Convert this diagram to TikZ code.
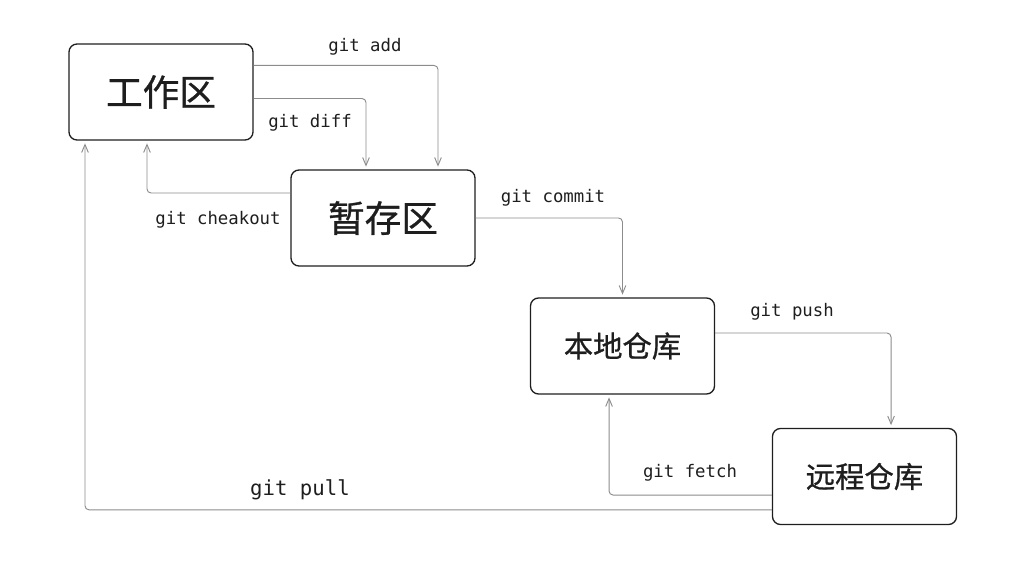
\documentclass[tikz,border=0pt]{standalone}
\usepackage{fontspec}
\setmainfont{DejaVu Sans Mono}
\newfontfamily\cjk[FakeBold=0.8]{Noto Sans CJK SC}
\usetikzlibrary{arrows.meta}
\definecolor{ink}{HTML}{1E1E1E}
\definecolor{wire}{HTML}{8C8C8C}

\begin{document}
\begin{tikzpicture}[x=0.75pt, y=-0.75pt]
\tikzset{
  area/.style={draw=ink, line width=1pt, rounded corners=6pt, minimum width=138pt,
    minimum height=72pt, text=ink, font=\cjk\fontsize{27.5}{30}\selectfont},
  repo/.style={area, font=\cjk\fontsize{22}{26}\selectfont},
  flow/.style={draw=wire, line width=0.7pt, rounded corners=3pt,
    -{Straight Barb[length=6pt,width=5pt]}, shorten >=2pt},
  cmd/.style={text=ink, font=\fontsize{13}{15}\selectfont}
}
\useasboundingbox (0,0) rectangle (1024,588);

\node [area] (work) at (161, 92) {工作区};
\node [area] (stage) at (383, 218) {暂存区};
\node [repo] (local) at (622.5, 346) {本地仓库};
\node [repo] (remote) at (864.5, 476.5) {远程仓库};

\draw [flow] ([yshift=19.9pt]work.east) -| ([xshift=41.25pt]stage.north);
\draw [flow] ([yshift=-4.9pt]work.east) -| ([xshift=-12.75pt]stage.north);
\draw [flow] ([yshift=18.75pt]stage.west) -| ([xshift=-10.5pt]work.south);
\draw [flow] (stage.east) -| (local.north);
\draw [flow] ([yshift=9.75pt]local.east) -| ([xshift=19.9pt]remote.north);
\draw [flow] ([yshift=-13.9pt]remote.west) -| ([xshift=-10.1pt]local.south);
\draw [flow] ([yshift=-25pt]remote.west) -| ([xshift=-57pt]work.south);

\node [cmd] (add) at (365, 47) {git add};
\node [cmd] (diff) at (310, 123) {git diff};
\node [cmd] (checkout) at (218, 220) {git cheakout};
\node [cmd] (commit) at (553, 198) {git commit};
\node [cmd] (push) at (792, 312) {git push};
\node [cmd] (fetch) at (690, 473) {git fetch};
\node [cmd, font=\fontsize{15.5}{18}\selectfont] (pull) at (300, 490) {git pull};

\end{tikzpicture}
\end{document}
